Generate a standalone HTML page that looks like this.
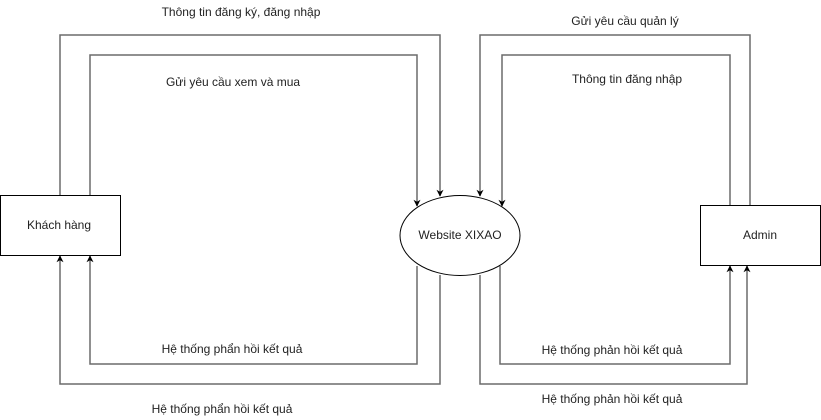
<!DOCTYPE html>
<html><head><meta charset="utf-8"><style>
html,body{margin:0;padding:0;background:#fff;width:821px;height:420px;overflow:hidden}
text{font-family:"Liberation Sans",Arial,sans-serif;font-size:12px;fill:#222}
</style></head><body>
<svg width="821" height="420" viewBox="0 0 821 420" xmlns="http://www.w3.org/2000/svg">
<defs><marker id="a" viewBox="0 0 10 10" refX="9" refY="5" markerWidth="7" markerHeight="7" orient="auto" markerUnits="userSpaceOnUse"><path d="M0,0 L10,5 L0,10 L3,5 z" fill="#000"/></marker></defs>
<g fill="none" stroke="#6b6b6b" stroke-width="1.5">
<path d="M60,195 V35 H440 V196" marker-end="url(#a)"/>
<path d="M90,195 V55 H417 V206" marker-end="url(#a)"/>
<path d="M417,266 V364 H90 V256" marker-end="url(#a)"/>
<path d="M440,275 V384 H60 V256" marker-end="url(#a)"/>
<path d="M750,205 V35 H480 V196" marker-end="url(#a)"/>
<path d="M730,205 V55 H502 V206" marker-end="url(#a)"/>
<path d="M500,266 V364 H730 V266" marker-end="url(#a)"/>
<path d="M480,275 V384 H747 V266" marker-end="url(#a)"/>
</g>
<rect x="0.5" y="195.5" width="120" height="60" fill="#fff" stroke="#000"/>
<rect x="700.5" y="205.5" width="120" height="60" fill="#fff" stroke="#000"/>
<ellipse cx="460" cy="235.5" rx="60" ry="40" fill="#fff" stroke="#000"/>
<g text-anchor="middle">
<text x="59" y="229">Khách hàng</text>
<text x="760" y="239">Admin</text>
<text x="460" y="239">Website XIXAO</text>
<text x="241" y="16">Thông tin đăng ký, đăng nhập</text>
<text x="233" y="86">Gửi yêu cầu xem và mua</text>
<text x="232" y="353">Hệ thống phẩn hồi kết quả</text>
<text x="222" y="413">Hệ thống phẩn hồi kết quả</text>
<text x="625" y="25">Gửi yêu cầu quản lý</text>
<text x="627" y="83">Thông tin đăng nhập</text>
<text x="612" y="354">Hệ thống phản hồi kết quả</text>
<text x="612" y="403">Hệ thống phản hồi kết quả</text>
</g>
</svg>
</body></html>
